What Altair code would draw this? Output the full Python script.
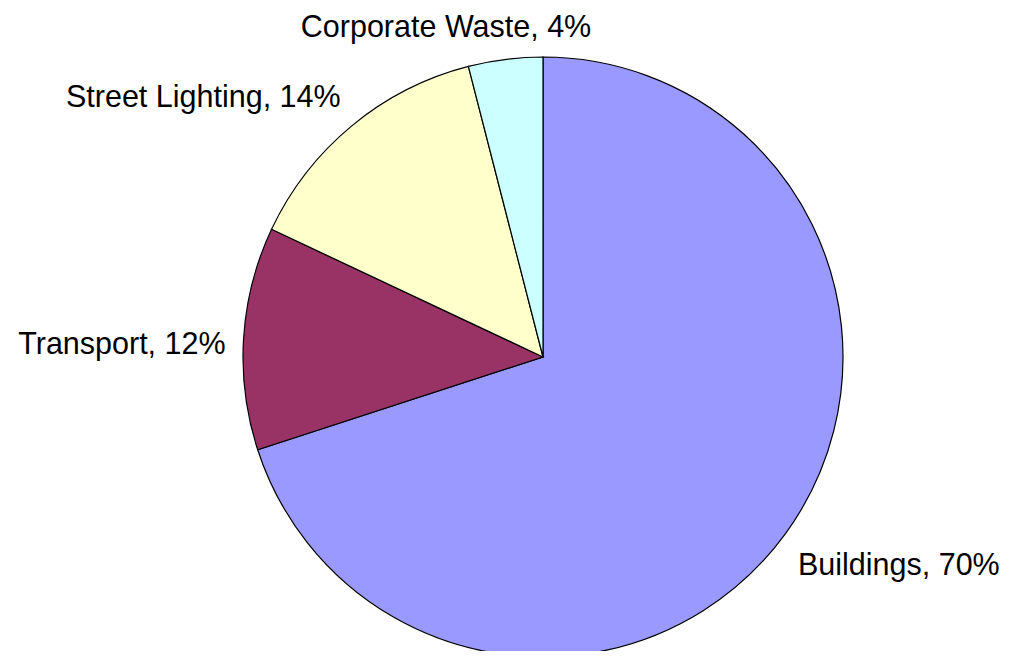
import altair as alt
import pandas as pd

categories = ["Buildings", "Transport", "Street Lighting", "Corporate Waste"]
shares = [70, 12, 14, 4]
colors = ["#9999FF", "#993366", "#FFFFCC", "#CCFFFF"]

df = pd.DataFrame({
    "category": categories,
    "share": shares,
    "order": list(range(len(categories))),
})
df["label"] = df["category"] + ", " + df["share"].astype(str) + "%"

CX, CY = 535, 349

base = alt.Chart(df).encode(
    theta=alt.Theta("share:Q", stack=True),
    order=alt.Order("order:Q"),
    x=alt.value(CX),
    y=alt.value(CY),
)

pie = base.mark_arc(outerRadius=300, stroke="black", strokeWidth=1.2).encode(
    color=alt.Color("category:N", scale=alt.Scale(domain=categories, range=colors), legend=None)
)

label_specs = {
    "Buildings": dict(align="left", radius=330, dx=-12, dy=15),
    "Transport": dict(align="right", radius=318, dx=0, dy=8),
    "Street Lighting": dict(align="right", radius=330, dx=8, dy=-5),
    "Corporate Waste": dict(align="center", radius=335, dx=-55, dy=3),
}

layers = [pie]
for cat, spec in label_specs.items():
    field = "lbl_" + cat.replace(" ", "_")
    layers.append(
        base.transform_calculate(
            **{field: f"datum.category == '{cat}' ? datum.label : ''"}
        ).mark_text(
            font="Liberation Sans", fontSize=30.5, color="black",
            baseline="middle", **spec
        ).encode(text=alt.Text(f"{field}:N"))
    )

chart = alt.layer(*layers).properties(
    width=1010, height=643, padding=0, autosize=alt.AutoSizeParams(type="none")
).configure_view(stroke=None)

chart.save("out.html", embed_options={"renderer": "svg", "actions": False})
